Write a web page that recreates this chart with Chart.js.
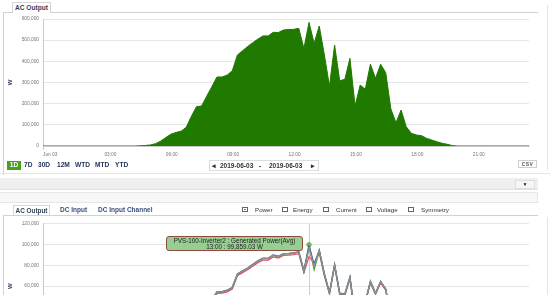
<!DOCTYPE html>
<html lang="en">
<head>
<meta charset="UTF-8" />
<title>AC Output</title>
<script src="https://cdn.jsdelivr.net/npm/chart.js"></script>
<style>
  body { margin: 0; width: 550px; height: 295px; overflow: hidden; background: #fff; position: relative;
         font-family: Arial, "Liberation Sans", sans-serif; }
  canvas { position: absolute; left: 0; }
  #chart-top { top: 0; }
  #chart-bottom { top: 217px; }
  .ln { position: absolute; background: #d2d2d2; }
  .tab { position: absolute; box-sizing: border-box; border: 1px solid #d6d6d6; border-bottom: none; background: #fff;
         font-size: 6.6px; font-weight: bold; color: #34435a; text-align: center; }
  .txt { position: absolute; white-space: nowrap; line-height: 8px; }
  .rng { top: 161px; font-size: 6.6px; font-weight: bold; color: #26355a; }
  .btn1d { position: absolute; left: 7px; top: 161px; width: 14px; height: 8.5px; background: #45a419; color: #fff;
           font-size: 6.6px; font-weight: bold; line-height: 8.5px; text-align: center; }
  .datebox { position: absolute; left: 209px; top: 160px; width: 110px; height: 10.5px; box-sizing: border-box; border: 1px solid #dcdcdc; }
  .dt { top: 161.5px; font-size: 6.5px; font-weight: bold; color: #333; }
  .csv { position: absolute; left: 518px; top: 160px; width: 19px; height: 7.5px; box-sizing: border-box; border: 1px solid #cfcfcf;
         font-size: 5px; font-weight: bold; color: #555; line-height: 6px; text-align: center; letter-spacing: 0.4px; }
  .band { position: absolute; left: 0; width: 538px; box-sizing: border-box; }
  .drop { position: absolute; left: 515px; top: 180px; width: 20px; height: 9px; box-sizing: border-box; background: #f6f6f6;
          border: 1px solid #dedede; font-size: 5px; line-height: 7px; text-align: center; color: #111; }
  .tb { top: 205.5px; font-size: 6.5px; font-weight: bold; color: #3a4f80; }
  .cb { position: absolute; top: 207px; width: 6px; height: 5px; box-sizing: border-box; border: 1px solid #666; background: #fff; }
  .cb.on::after { content: ""; position: absolute; left: 1px; top: 1px; width: 2px; height: 1px; background: #777; }
  .cbl { top: 205.5px; font-size: 6.2px; color: #333; }
  .tip { position: absolute; left: 166px; top: 236px; width: 137px; height: 15px; box-sizing: border-box; background: #97cf92;
         border: 1px solid #8e4b3c; border-radius: 3px; font-size: 6.3px; color: #1e1e1e; text-align: center; line-height: 5.8px; padding-top: 1.2px; }
</style>
</head>
<body>
  <canvas id="chart-top" width="550" height="170"></canvas>
  <canvas id="chart-bottom" width="550" height="160"></canvas>

  <!-- frame lines -->
  <div class="ln" style="left:3px;top:12px;width:1px;height:163px"></div>
  <div class="ln" style="left:3px;top:12px;width:535px;height:1px"></div>
  <div class="ln" style="left:547px;top:5px;width:1px;height:165px;background:#e4e4e4"></div>
  <div class="tab" style="left:12px;top:2px;width:39px;height:11px;line-height:10px">AC Output</div>

  <!-- range row -->
  <div class="btn1d">1D</div>
  <span class="txt rng" style="left:24px">7D</span>
  <span class="txt rng" style="left:38px">30D</span>
  <span class="txt rng" style="left:57px">12M</span>
  <span class="txt rng" style="left:75px">WTD</span>
  <span class="txt rng" style="left:95px">MTD</span>
  <span class="txt rng" style="left:115px">YTD</span>
  <div class="datebox"></div>
  <span class="txt dt" style="left:212px">◂</span>
  <span class="txt dt" style="left:220px">2019-06-03</span>
  <span class="txt dt" style="left:259px">-</span>
  <span class="txt dt" style="left:269px">2019-06-03</span>
  <span class="txt dt" style="left:311px">▸</span>
  <div class="csv">CSV</div>

  <div class="ln" style="left:0;top:173px;width:550px;height:1px;background:#e6e6e6"></div>
  <div class="band" style="top:178px;height:12px;background:#efefef;border-bottom:1px solid #e2e2e2"></div>
  <div class="drop">▼</div>
  <div class="band" style="top:192px;height:11px;background:#f7f7f7;border:1px solid #e6e6e6;border-left:none"></div>

  <!-- tabs row -->
  <div class="tab" style="left:13px;top:205px;width:37px;height:10px;line-height:9px;font-size:6.4px">AC Output</div>
  <span class="txt tb" style="left:60px">DC Input</span>
  <span class="txt tb" style="left:98px">DC Input Channel</span>
  <div class="cb on" style="left:242px"></div><span class="txt cbl" style="left:255px">Power</span>
  <div class="cb" style="left:282px"></div><span class="txt cbl" style="left:293px">Energy</span>
  <div class="cb" style="left:323px"></div><span class="txt cbl" style="left:336px">Current</span>
  <div class="cb" style="left:366px"></div><span class="txt cbl" style="left:377px">Voltage</span>
  <div class="cb" style="left:408px"></div><span class="txt cbl" style="left:421px">Symmetry</span>
  <div class="ln" style="left:3px;top:215px;width:535px;height:1px"></div>
  <div class="ln" style="left:3px;top:215px;width:1px;height:80px"></div>
  <div class="ln" style="left:547px;top:217px;width:1px;height:78px;background:#e4e4e4"></div>

  <div class="tip">PVS-100-Inverter2 : Generated Power(Avg)<br>13:00 : 99,859.03 W</div>

<script>
const times = [
  '00:00','00:15','00:30','00:45','01:00','01:15','01:30','01:45','02:00','02:15','02:30','02:45',
  '03:00','03:15','03:30','03:45','04:00','04:15','04:30','04:45','05:00','05:15','05:30','05:45',
  '06:00','06:15','06:30','06:45','07:00','07:15','07:30','07:45','08:00','08:15','08:30','08:45',
  '09:00','09:15','09:30','09:45','10:00','10:15','10:30','10:45','11:00','11:15','11:30','11:45',
  '12:00','12:15','12:30','12:45','13:00','13:15','13:30','13:45','14:00','14:15','14:30','14:45',
  '15:00','15:15','15:30','15:45','16:00','16:15','16:30','16:45','17:00','17:15','17:30','17:45',
  '18:00','18:15','18:30','18:45','19:00','19:15','19:30','19:45','20:00','20:15','20:30','20:45',
  '21:00','21:15','21:30','21:45','22:00','22:15','22:30','22:45','23:00','23:15','23:30','23:45'
];
const tickLabels = ['Jun 03', '03:00', '06:00', '09:00', '12:00', '15:00', '18:00', '21:00'];

// plant AC output, W
const acOutput = [
  0,0,0,0,0,0,0,0,0,0,0,0,
  0,0,0,0,0,0,0,1000,2500,5000,11000,23000,
  40000,56000,64000,70000,88000,140000,186000,189000,235000,280000,326000,326000,
  335000,355000,430000,450000,470000,488000,505000,520000,520000,537000,536000,548000,
  550000,551000,556000,461000,584000,485000,567000,430000,283000,477000,308000,315000,
  414000,189000,288000,268000,386000,320000,386000,346000,175000,110000,170000,91000,
  60000,52000,49000,36000,28000,20000,13000,8000,2000,0,0,0,
  0,0,0,0,0,0,0,0,0,0,0,0
];

// per inverter generated power (avg), W
const inverter1 = [
  0,0,0,0,0,0,0,0,0,0,0,0,
  0,0,0,0,0,0,0,200,500,1000,1900,3800,
  6600,9300,10600,11700,14700,23300,31000,31500,39000,46700,54500,54600,
  56000,58800,71800,74800,77500,81000,84400,86900,86800,90000,88800,91400,
  91600,92100,93100,75000,98900,81200,94800,72000,53800,81000,53200,52400,
  68800,31500,48000,44800,64800,53200,64600,57300,29200,18300,28300,15200,
  10000,8700,8200,6000,4700,3300,2200,1300,300,0,0,0,
  0,0,0,0,0,0,0,0,0,0,0,0
];
const inverter2 = [
  0,0,0,0,0,0,0,0,0,0,0,0,
  0,0,0,0,0,0,0,200,400,900,1800,3700,
  6500,9200,10400,11600,14600,23100,30800,31300,38800,46400,54200,54300,
  55700,58400,71300,74300,77000,80600,84000,86400,86400,89600,88300,91000,
  91200,91700,92700,74000,99859.03,76000,94000,71000,53000,80200,52600,51800,
  68000,31000,47500,44300,64000,52600,64000,56700,28800,18000,28000,15000,
  9900,8600,8100,5900,4600,3200,2100,1200,300,0,0,0,
  0,0,0,0,0,0,0,0,0,0,0,0
];
const inverter3 = [
  0,0,0,0,0,0,0,0,0,0,0,0,
  0,0,0,0,0,0,0,200,400,900,1800,3700,
  6500,9200,10500,11600,14600,23200,30900,31400,38900,46500,54300,54400,
  55800,58600,71500,74500,77200,80800,84200,86600,86600,89800,88500,91200,
  91400,91900,92900,74500,96500,79000,94400,71500,53400,80600,52900,52100,
  68400,31200,47700,44500,64400,52900,64300,57000,29000,18100,28100,15100,
  9900,8600,8100,5900,4600,3200,2100,1200,300,0,0,0,
  0,0,0,0,0,0,0,0,0,0,0,0
];
const inverter4 = [
  0,0,0,0,0,0,0,0,0,0,0,0,
  0,0,0,0,0,0,0,200,400,900,1800,3500,
  6000,8800,10000,11200,14100,22300,29800,30200,37500,45000,53000,53200,
  54500,57200,70000,73000,75800,79200,82500,85000,85000,88200,87000,89600,
  89800,90300,91300,73000,88400,82000,92000,70000,52500,79000,52000,51000,
  67000,30500,46800,43600,63000,52000,63200,56000,28500,17600,27500,14700,
  9700,8400,7900,5800,4500,3100,2100,1200,300,0,0,0,
  0,0,0,0,0,0,0,0,0,0,0,0
];

const hoverIndex = times.indexOf('13:00');
const tickFont = { family: 'Arial, "Liberation Sans", sans-serif', size: 4.8 };

function xAxis(height) {
  return {
    ticks: {
      autoSkip: false, maxRotation: 0, align: 'start', padding: 2, font: tickFont, color: '#777',
      callback: (v, i) => i % 12 === 0 ? tickLabels[i / 12] : null
    },
    grid: { drawOnChartArea: false, tickLength: 4, color: c => c.index % 12 === 0 ? '#c8c8c8' : 'rgba(0,0,0,0)' },
    border: { color: '#c8c8c8' },
    afterFit: s => { s.height = height; }
  };
}

function yAxis(max, step) {
  return {
    min: 0, max: max,
    ticks: { stepSize: step, padding: 4, font: tickFont, color: '#777', callback: v => v.toLocaleString('en-US') },
    grid: { color: '#e6e6e6', drawTicks: false },
    border: { color: '#c8c8c8' },
    title: { display: true, text: 'W', color: '#2f3f66', font: { size: 6, weight: 'bold' }, padding: { top: 7, bottom: 0 } },
    afterFit: s => { s.width = 43; }
  };
}

new Chart(document.getElementById('chart-top'), {
  type: 'line',
  data: {
    labels: times,
    datasets: [{
      label: 'AC Output', data: acOutput, fill: 'origin',
      backgroundColor: '#217a00', borderColor: '#217a00', borderWidth: 1, pointRadius: 0, tension: 0
    }]
  },
  options: {
    responsive: false, animation: false,
    layout: { padding: { top: 19, right: 21, left: 0, bottom: 0 } },
    plugins: { legend: { display: false }, tooltip: { enabled: false } },
    scales: { x: xAxis(24), y: yAxis(600000, 100000) }
  }
});

const crosshair = {
  id: 'crosshair',
  beforeDatasetsDraw(chart) {
    const x = chart.scales.x.getPixelForValue(hoverIndex);
    const { top, bottom } = chart.chartArea;
    const ctx = chart.ctx;
    ctx.save();
    ctx.strokeStyle = '#cfcfcf';
    ctx.lineWidth = 1;
    ctx.beginPath();
    ctx.moveTo(Math.round(x) + 0.5, top);
    ctx.lineTo(Math.round(x) + 0.5, bottom);
    ctx.stroke();
    ctx.restore();
  }
};

const line = (label, data, color) => ({
  label, data, borderColor: color, backgroundColor: color, borderWidth: 1.3, pointRadius: 0, tension: 0, fill: false
});

new Chart(document.getElementById('chart-bottom'), {
  type: 'line',
  data: {
    labels: times,
    datasets: [
      line('PVS-100-Inverter3', inverter3, '#8f8f8f'),
      line('PVS-100-Inverter1', inverter1, '#3b64a8'),
      Object.assign(line('PVS-100-Inverter2', inverter2, '#4c9a2a'), {
        pointRadius: times.map((t, i) => i === hoverIndex ? 2.2 : 0),
        pointBackgroundColor: '#8fd07a', pointBorderColor: '#4c9a2a', pointBorderWidth: 0.8
      }),
      line('PVS-100-Inverter4', inverter4, '#e5506e')
    ]
  },
  options: {
    responsive: false, animation: false,
    layout: { padding: { top: 5, right: 21, left: 0, bottom: 0 } },
    plugins: { legend: { display: false }, tooltip: { enabled: false } },
    scales: { x: xAxis(28.7), y: yAxis(120000, 20000) }
  },
  plugins: [crosshair]
});
</script>
</body>
</html>
